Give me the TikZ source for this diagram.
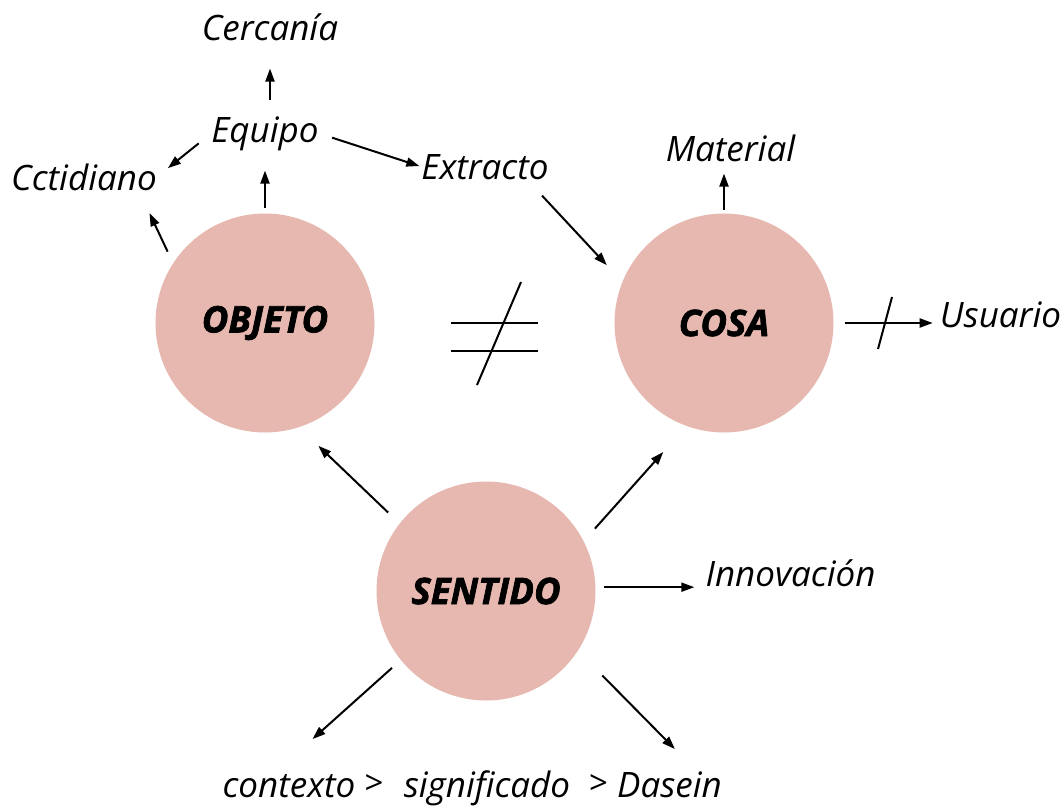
\documentclass[tikz,border=0pt]{standalone}
\usepackage{fontspec}
\setmainfont{Open Sans}
\newfontfamily\heavyfont[FakeBold=2]{Open Sans}
\usetikzlibrary{arrows.meta}
\definecolor{rosa}{RGB}{230,184,175}

\begin{document}
\begin{tikzpicture}
	[x=1pt,y=-1pt,
	circ/.style={circle,fill=rosa,minimum size=219pt,inner sep=0pt,outer sep=0pt,
		font=\heavyfont\bfseries\itshape\fontsize{36.5}{42}\selectfont},
	word/.style={inner sep=0pt,anchor=base,font=\itshape\fontsize{35}{42}\selectfont},
	sign/.style={inner sep=0pt,anchor=base,font=\fontsize{33}{40}\selectfont},
	arr/.style={line width=2pt,-{Triangle[length=13pt,width=9pt]}},
	strike/.style={line width=2pt},
	]
	\useasboundingbox (0,0) rectangle (1064,809);

	% Kreise
	\node[circ] (objeto) at (265,323) {OBJETO};
	\node[circ] (cosa) at (724,323) {COSA};
	\node[circ] (sentido) at (486,591) {SENTIDO};

	% Begriffe
	\node[word] (cercania) at (270,40) {Cercanía};
	\node[word] (equipo) at (265,142) {Equipo};
	\node[word] (cctidiano) at (84,190) {Cctidiano};
	\node[word] (extracto) at (485,179) {Extracto};
	\node[word] (material) at (730.5,161) {Material};
	\node[word] (usuario) at (1000.5,327) {Usuario};
	\node[word] (innovacion) at (790.5,586) {Innovación};
	\node[word] (contexto) at (289,797) {contexto};
	\node[sign] (gta) at (374,794) {>};
	\node[word] (significado) at (487,797) {significado};
	\node[sign] (gtb) at (598.5,794) {>};
	\node[word] (dasein) at (669.5,797) {Dasein};

	\draw[arr,shorten <=6pt,shorten >=20pt] (objeto) -- (equipo);
	\draw[arr,shorten <=16pt,shorten >=28pt] (cercania.south |- equipo.north) -- (cercania.south);
	\draw[arr,shorten <=16pt,shorten >=14pt] (equipo.west) -- (cctidiano.east);
	\draw[arr,shorten <=14pt,shorten >=2pt] (equipo.east) -- (extracto.west);
	\draw[arr,shorten <=13pt,shorten >=25pt] (objeto.147) -- (cctidiano.-14);
	\draw[arr,shorten <=22pt,shorten >=23pt] (extracto.-17) -- (cosa.158);
	\draw[arr,shorten <=4pt,shorten >=12pt] (cosa.north) -- (cosa.north |- material.south);
	\draw[arr,shorten <=11pt,shorten >=7pt] (cosa.east) -- (cosa.east -| usuario.west);
	\draw[arr,shorten <=16pt,shorten >=27pt] (sentido.142) -- (objeto.-72);
	\draw[arr,shorten <=17pt,shorten >=35pt] (sentido.27) -- (cosa.-110);
	\draw[arr,shorten <=9pt,shorten >=11pt] (sentido.2) -- (sentido.2 -| innovacion.west);
	\draw[arr,shorten <=12pt,shorten >=52pt] (sentido.-141) -- (contexto.142);
	\draw[arr,shorten <=35pt,shorten >=31pt] (sentido.-33) -- (dasein.26);

	% ungleich
	\draw[strike] (451,323) -- (538,323);
	\draw[strike] (451,351) -- (538,351);
	\draw[strike] (477,385) -- (521,282);
	\draw[strike] (878,349) -- (892,297);
\end{tikzpicture}
\end{document}
